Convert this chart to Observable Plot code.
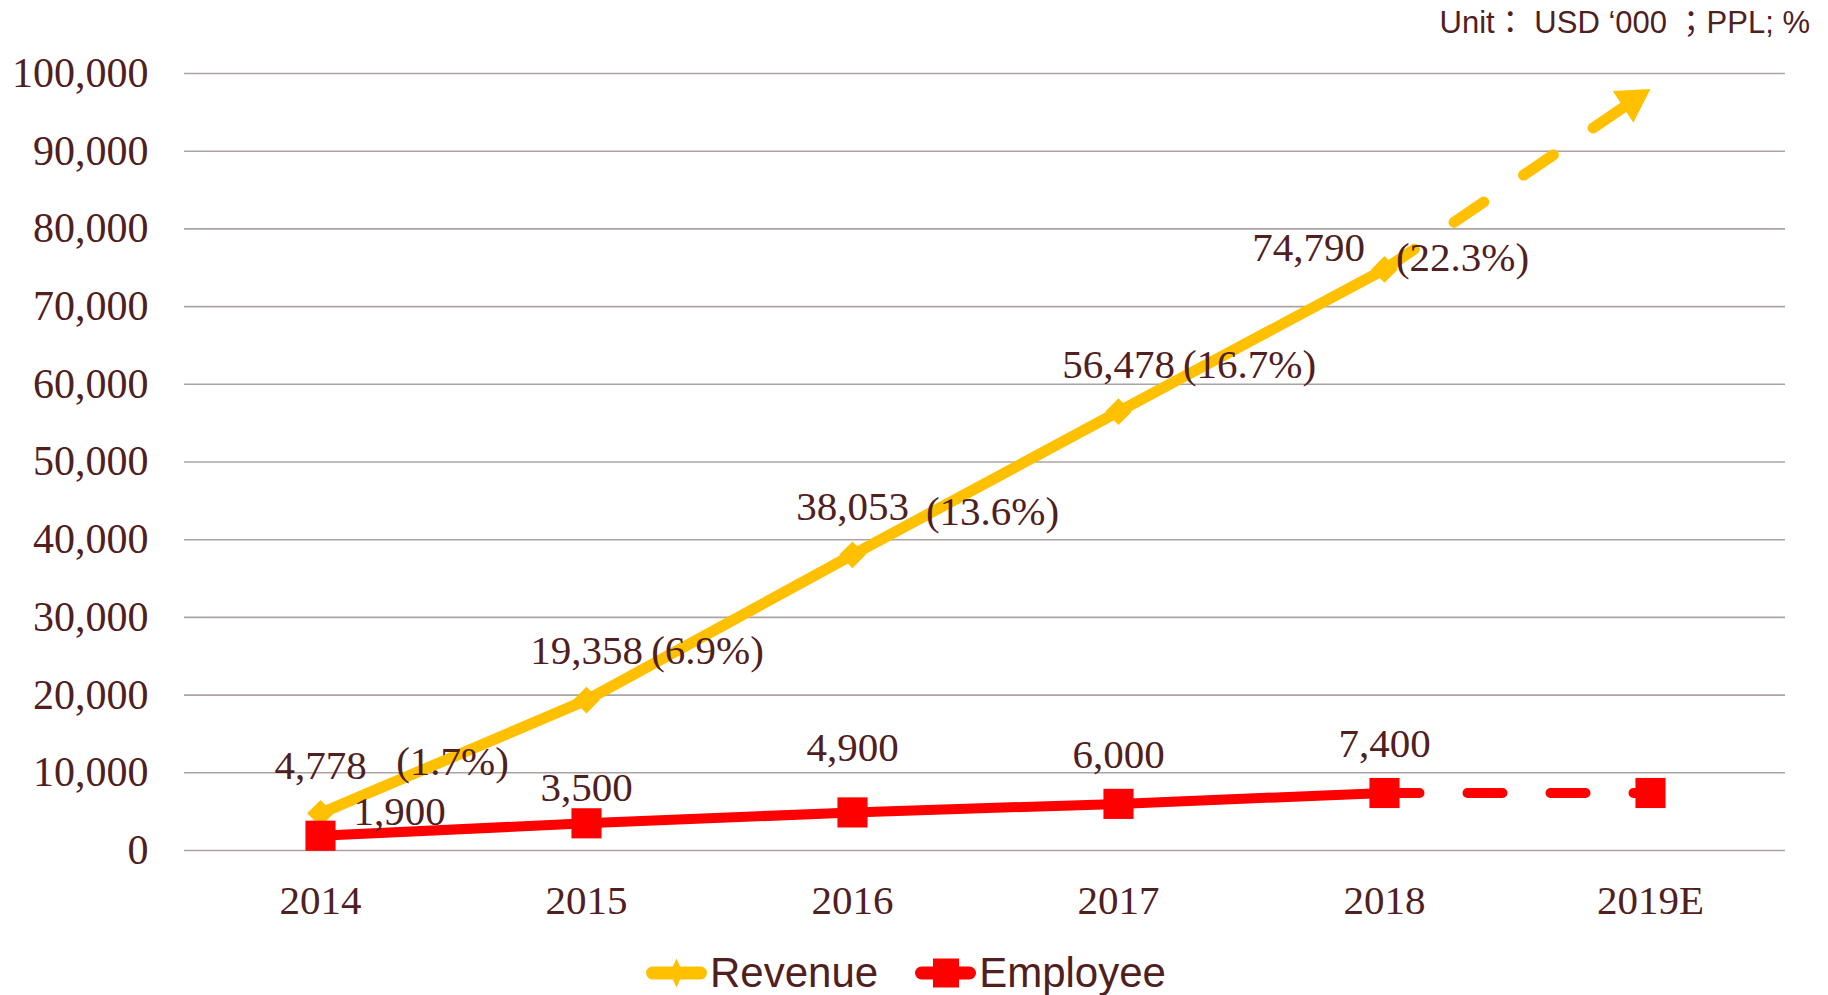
<!DOCTYPE html>
<html>
<head>
<meta charset="utf-8">
<script src="https://cdn.jsdelivr.net/npm/d3@7"></script>
<script src="https://cdn.jsdelivr.net/npm/@observablehq/plot@0.6"></script>
<style>
  html, body { margin: 0; padding: 0; background: #fff; }
  body { width: 1828px; height: 995px; overflow: hidden; }
  #unit { height: 44px; box-sizing: border-box; padding: 3px 18px 0 0; text-align: right;
          font: 31px/40px "Liberation Sans", Arial, "Noto Sans CJK JP", sans-serif; color: #50201f; white-space: pre; }
  #chart svg { display: block; }
  #legend { height: 65px; box-sizing: border-box; padding: 20px 0 0 646px; display: flex; align-items: center;
            font: 42px/45px "Liberation Sans", Arial, sans-serif; color: #50201f; }
  #legend .item { display: flex; align-items: center; margin-right: 37px; }
  #legend svg { display: block; margin-right: 3px; }
</style>
</head>
<body>
<div id="unit"></div>
<div id="chart"></div>
<div id="legend"></div>
<script>
// ---------- data ----------
const years = ["2014", "2015", "2016", "2017", "2018", "2019E"];
const revenue = [4778, 19358, 38053, 56478, 74790];          // 2014-2018
const revenueGrowth = [1.7, 6.9, 13.6, 16.7, 22.3];           // % labels
const employee = [1900, 3500, 4900, 6000, 7400];              // 2014-2018
const employeeForecast = 7400;                                // 2019E
const revenueTrendTarget = 98000;                             // arrow tip at 2019E
const yTicks = [0, 10000, 20000, 30000, 40000, 50000, 60000, 70000, 80000, 90000, 100000];
const unitText = "Unit： USD ‘000 ；PPL; %";
const seriesNames = ["Revenue", "Employee"];

// ---------- layout / style ----------
const revColor = "#FFC000";
const empColor = "#FF0000";
const textColor = "#50201f";
const serif = "'Liberation Serif', 'Times New Roman', serif";
const labelSize = 41;
// label nudges [dx, dy] in px
const revLabelNudge = [[0, -47], [0, -49], [0, -48], [0, -47], [-76, -22]];
const growthLabelNudge = [[132, -51], [121, -49], [140, -43], [131, -47], [78, -12]];
const empLabelNudge = [[79, -24], [0, -35], [0, -65], [0, -49], [0, -49]];

const fmt = d3.format(",");
const revData = revenue.map((v, i) => ({year: years[i], value: v}));
const empData = employee.map((v, i) => ({year: years[i], value: v}));
const lastIdx = revenue.length - 1;
const revTrend = [{year: years[lastIdx], value: revenue[lastIdx]}, {year: years[5], value: revenueTrendTarget}];
const empTrend = [{year: years[lastIdx], value: employee[lastIdx]}, {year: years[5], value: employeeForecast}];

document.getElementById("unit").textContent = unitText;

const labelMarks = [];
revData.forEach((d, i) => {
  labelMarks.push(Plot.text([d], {x: "year", y: "value", text: d => fmt(d.value),
    dx: revLabelNudge[i][0], dy: revLabelNudge[i][1], fontSize: labelSize, fontFamily: serif, fill: textColor}));
  labelMarks.push(Plot.text([d], {x: "year", y: "value", text: () => "(" + revenueGrowth[i].toFixed(1) + "%)",
    dx: growthLabelNudge[i][0], dy: growthLabelNudge[i][1], fontSize: labelSize, fontFamily: serif, fill: textColor}));
});
empData.forEach((d, i) => {
  labelMarks.push(Plot.text([d], {x: "year", y: "value", text: d => fmt(d.value),
    dx: empLabelNudge[i][0], dy: empLabelNudge[i][1], fontSize: labelSize, fontFamily: serif, fill: textColor}));
});

const chart = Plot.plot({
  width: 1828,
  height: 886,
  marginTop: 29,
  marginBottom: 80,
  marginLeft: 184,
  marginRight: 43,
  style: {fontFamily: serif, fontSize: labelSize + "px", color: textColor, background: "#fff"},
  x: {type: "point", domain: years, padding: 0.5},
  y: {domain: [0, 100000]},
  marks: [
    Plot.ruleY(yTicks, {stroke: "#aca4a4", strokeWidth: 1.6}),
    Plot.axisY({ticks: yTicks, tickFormat: fmt, tickSize: 0, tickPadding: 36, label: null,
      fontSize: labelSize + 1, fontFamily: serif, fill: textColor}),
    Plot.axisX({tickSize: 0, tickPadding: 34, label: null, fontSize: labelSize, fontFamily: serif, fill: textColor}),
    // revenue
    Plot.line(revData, {x: "year", y: "value", stroke: revColor, strokeWidth: 11, strokeLinejoin: "round", strokeLinecap: "round"}),
    Plot.line(revTrend, {x: "year", y: "value", stroke: revColor, strokeWidth: 11, strokeLinecap: "round", strokeDasharray: "36,48"}),
    Plot.dot([revTrend[1]], {x: "year", y: "value", symbol: "triangle", r: 14, fill: revColor, stroke: "none",
      rotate: 57, dx: -18.3, dy: 11.9}),
    Plot.dot(revData, {x: "year", y: "value", symbol: "diamond2", r: 12, fill: revColor, stroke: "none"}),
    // employee
    Plot.line(empData, {x: "year", y: "value", stroke: empColor, strokeWidth: 10, strokeLinejoin: "round", strokeLinecap: "round"}),
    Plot.line(empTrend, {x: "year", y: "value", stroke: empColor, strokeWidth: 10, strokeLinecap: "round", strokeDasharray: "35,48"}),
    Plot.dot(empData.concat([empTrend[1]]), {x: "year", y: "value", symbol: "square", r: 17, fill: empColor, stroke: "none"}),
    ...labelMarks
  ]
});
document.getElementById("chart").appendChild(chart);

// ---------- legend ----------
const legend = document.getElementById("legend");
const ns = "http://www.w3.org/2000/svg";
function legendItem(name, color, shape) {
  const item = document.createElement("div");
  item.className = "item";
  const svg = document.createElementNS(ns, "svg");
  svg.setAttribute("width", 61); svg.setAttribute("height", 32);
  const line = document.createElementNS(ns, "line");
  line.setAttribute("x1", 6.5); line.setAttribute("x2", 54.5);
  line.setAttribute("y1", 16); line.setAttribute("y2", 16);
  line.setAttribute("stroke", color); line.setAttribute("stroke-width", 13);
  line.setAttribute("stroke-linecap", "round");
  svg.appendChild(line);
  const m = document.createElementNS(ns, "path");
  m.setAttribute("d", shape === "diamond" ? "M30.5,1.5L37,16L30.5,30.5L24,16Z" : "M18,1.5H44V30.5H18Z");
  m.setAttribute("fill", color);
  svg.appendChild(m);
  item.appendChild(svg);
  const t = document.createElement("span");
  t.textContent = name;
  item.appendChild(t);
  legend.appendChild(item);
}
legendItem(seriesNames[0], revColor, "diamond");
legendItem(seriesNames[1], empColor, "square");
</script>
</body>
</html>
